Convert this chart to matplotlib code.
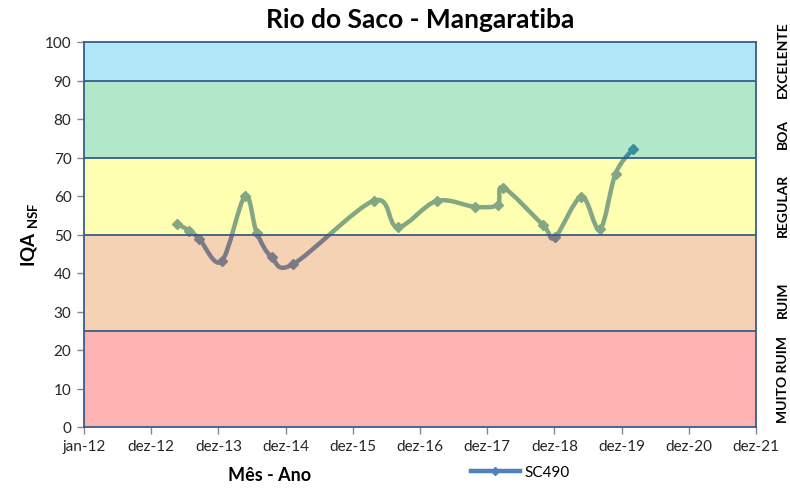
import numpy as np
import matplotlib
matplotlib.use("Agg")
import matplotlib.pyplot as plt
import matplotlib.dates as mdates
from matplotlib.path import Path
from matplotlib.patches import PathPatch
from matplotlib.lines import Line2D
import datetime as dt

plt.rcParams['font.family'] = ['Lato', 'DejaVu Sans']
plt.rcParams['mathtext.fontset'] = 'custom'
plt.rcParams['mathtext.rm'] = 'Lato'
plt.rcParams['mathtext.bf'] = 'Lato:bold'

# ---- data ----
dates = ["2013-05-18", "2013-07-26", "2013-09-18", "2014-01-17", "2014-05-24",
         "2014-07-27", "2014-10-16", "2015-02-10", "2016-04-24", "2016-08-31",
         "2017-03-30", "2017-10-24", "2018-02-24", "2018-03-27", "2018-10-30",
         "2019-01-02", "2019-05-26", "2019-09-03", "2019-11-27", "2020-03-02"]
iqa = [52.8, 51.0, 48.9, 43.0, 59.9, 50.5, 44.1, 42.3, 58.8, 51.9,
       58.7, 57.2, 57.7, 62.2, 52.4, 49.3, 59.8, 51.3, 65.8, 72.3]
series_name = "SC490"
title = "Rio do Saco - Mangaratiba"
x_label = "Mês - Ano"
class_names = ["MUITO RUIM", "RUIM", "REGULAR", "BOA", "EXCELENTE"]
class_bounds = [0, 25, 50, 70, 90, 100]
class_colors = ["#FF0000", "#E36C09", "#FFFF00", "#00B050", "#00B0F0"]
tick_labels = ["jan-12", "dez-12", "dez-13", "dez-14", "dez-15", "dez-16",
               "dez-17", "dez-18", "dez-19", "dez-20", "dez-21"]

# ---- figure ----
fig = plt.figure(figsize=(7.9, 4.89), dpi=100)
ax = fig.add_axes([84/790, 61/489, 672/790, 385/489])

start = mdates.date2num(dt.datetime(2012, 1, 1))
xticks = [start + 365*i for i in range(len(tick_labels))]
x = mdates.date2num([dt.datetime.strptime(d, "%Y-%m-%d") for d in dates])
y = np.array(iqa)

line_color = "#4F81BD"
# smoothed line (Bezier through points, Excel-like)
pts = np.column_stack([x, y])
n = len(pts)
verts = [tuple(pts[0])]
codes = [Path.MOVETO]
for i in range(n - 1):
    p0 = pts[i - 1] if i > 0 else pts[i]
    p1 = pts[i]
    p2 = pts[i + 1]
    p3 = pts[i + 2] if i + 2 < n else pts[i + 1]
    c1 = p1 + (p2 - p0) / 6.0
    c2 = p2 - (p3 - p1) / 6.0
    verts += [tuple(c1), tuple(c2), tuple(p2)]
    codes += [Path.CURVE4] * 3
ax.add_patch(PathPatch(Path(verts, codes), facecolor='none', edgecolor=line_color,
                       lw=3.2, zorder=1, capstyle='round', joinstyle='round'))
ax.plot(x, y, ls='none', marker='D', ms=5, color=line_color, zorder=1)

# quality bands over the line (semi-transparent)
for lo, hi, c in zip(class_bounds[:-1], class_bounds[1:], class_colors):
    ax.axhspan(lo, hi, color=c, alpha=0.3, lw=0, zorder=2)
for b in class_bounds[1:-1]:
    ax.axhline(b, color="#385D8A", lw=1.3, zorder=3)

ax.set_xlim(xticks[0], xticks[-1])
ax.set_ylim(0, 100)
ax.set_yticks(range(0, 101, 10))
ax.set_xticks(xticks)
ax.set_xticklabels(tick_labels)
ax.tick_params(axis='both', labelsize=11, colors='#262626', length=5, width=1,
               direction='out', pad=4)
ax.tick_params(axis='both', color='#868686')
for s in ax.spines.values():
    s.set_color('#385D8A')
    s.set_linewidth(1.3)
    s.set_zorder(4)

fig.text(420/790, 1 - 20/489, title, ha='center', va='center', fontsize=19,
         fontweight='bold', color='black')
fig.text(30/790, 1 - 235/489, r"$\mathbf{IQA}_{\ \mathbf{NSF}}$", rotation=90,
         ha='center', va='center', fontsize=13.5)
fig.text(270/790, 1 - 476/489, x_label, ha='center', va='center', fontsize=13,
         fontweight='bold')

# class labels on the right
label_y = [12.5, 33.2, 57.9, 76.4, 95.6]
for name, ly in zip(class_names, label_y):
    ax.text(1.0 + 27/672, ly, name, transform=ax.get_yaxis_transform(),
            rotation=90, ha='center', va='center', fontsize=10, fontweight='bold')

handle = Line2D([], [], color=line_color, lw=3.2, marker='D', ms=4)
fig.legend([handle], [series_name], loc='center', bbox_to_anchor=(520/790, 1 - 473/489),
           frameon=False, fontsize=11, handlelength=3.2, handletextpad=0.3)

fig.savefig("out.png", dpi=100)
